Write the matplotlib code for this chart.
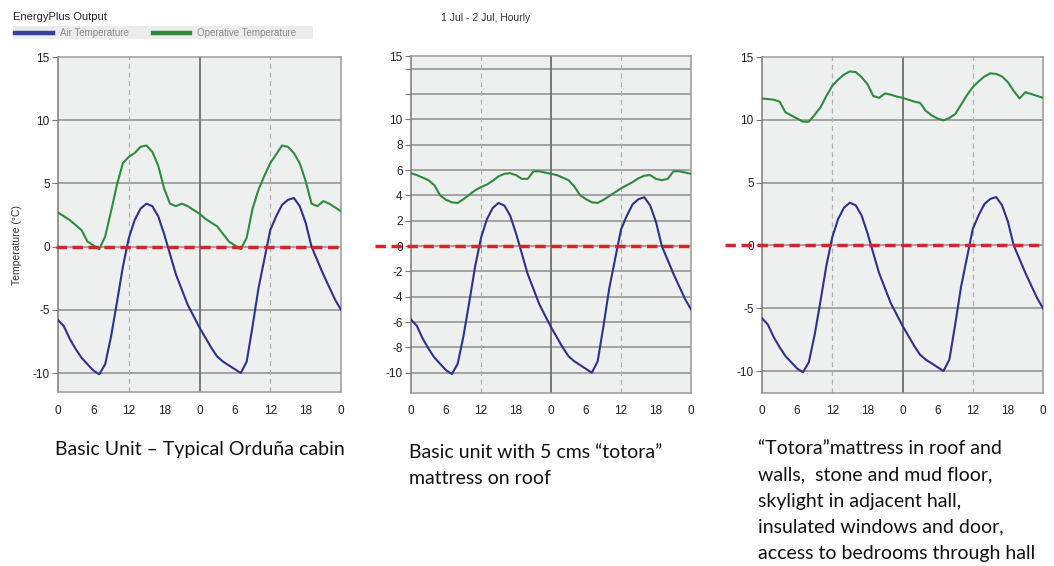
import matplotlib
matplotlib.use("Agg")
import matplotlib.pyplot as plt
import matplotlib.transforms as mtransforms
import numpy as np

plt.rcParams["font.family"] = ["Liberation Sans", "DejaVu Sans"]

# ---------------- data ----------------
hours = list(range(49))
xtick_pos = [0, 6, 12, 18, 24, 30, 36, 42, 48]
xtick_labels = ["0", "6", "12", "18", "0", "6", "12", "18", "0"]

air_temp = [-5.8, -6.3, -7.3, -8.1, -8.8, -9.3, -9.8, -10.1, -9.3, -7.1,
            -4.4, -1.6, 0.65, 2.1, 3.0, 3.4, 3.2, 2.4, 1.0, -0.6,
            -2.2, -3.4, -4.6, -5.5, -6.4, -7.2, -8.0, -8.7, -9.1, -9.4,
            -9.7, -10.0, -9.1, -6.3, -3.3, -1.0, 1.3, 2.4, 3.3, 3.7,
            3.85, 3.2, 1.9, 0.0, -1.1, -2.2, -3.2, -4.2, -5.0]

operative_basic = [2.7, 2.4, 2.1, 1.7, 1.3, 0.4, 0.1, -0.2, 0.8, 2.8,
                   4.9, 6.6, 7.1, 7.4, 7.9, 8.0, 7.5, 6.4, 4.6, 3.4,
                   3.2, 3.4, 3.2, 2.9, 2.6, 2.2, 1.9, 1.6, 1.0, 0.4,
                   0.1, -0.2, 0.7, 3.0, 4.5, 5.6, 6.6, 7.3, 8.0, 7.9,
                   7.4, 6.6, 5.2, 3.4, 3.2, 3.6, 3.4, 3.1, 2.8]

operative_roof = [5.75, 5.6, 5.4, 5.2, 4.8, 4.0, 3.65, 3.45, 3.4, 3.7,
                  4.05, 4.4, 4.65, 4.85, 5.15, 5.5, 5.7, 5.75, 5.6, 5.3,
                  5.3, 5.9, 5.9, 5.8, 5.7, 5.6, 5.4, 5.2, 4.7, 4.0,
                  3.7, 3.45, 3.4, 3.65, 3.95, 4.25, 4.55, 4.8, 5.05, 5.35,
                  5.55, 5.6, 5.3, 5.2, 5.3, 5.9, 5.9, 5.8, 5.7]

operative_full = [11.7, 11.65, 11.6, 11.45, 10.6, 10.35, 10.1, 9.85, 9.85, 10.4,
                  11.0, 11.9, 12.7, 13.2, 13.6, 13.85, 13.8, 13.4, 12.85, 11.9,
                  11.75, 12.1, 12.0, 11.85, 11.75, 11.6, 11.45, 11.35, 10.7, 10.35,
                  10.1, 9.95, 10.15, 10.45, 11.2, 11.95, 12.6, 13.05, 13.45, 13.7,
                  13.65, 13.45, 13.0, 12.3, 11.7, 12.2, 12.05, 11.9, 11.75]

yticks_main = [-10, -5, 0, 5, 10, 15]
yticks_roof = [-10, -8, -6, -4, -2, 0, 2, 4, 6, 8, 10, 12, 14, 15]
ylabels_roof = ["-10", "-8", "-6", "-4", "-2", "0", "2", "4", "6", "8", "10", "", "", "15"]

captions = [
    ["Basic Unit \u2013 Typical Ordu\u00f1a cabin"],
    ["Basic unit with 5 cms \u201ctotora\u201d", "mattress on roof"],
    ["\u201cTotora\u201dmattress in roof and", "walls,  stone and mud floor,",
     "skylight in adjacent hall,", "insulated windows and door,",
     "access to bedrooms through hall"],
]

title_text = "EnergyPlus Output"
period_text = "1 Jul - 2 Jul, Hourly"
legend_labels = ["Air Temperature", "Operative Temperature"]
ylabel_text = "Temperature (\u00b0C)"

# ---------------- styling ----------------
W, H = 1054, 566
fig = plt.figure(figsize=(W / 100, H / 100), dpi=100)
fig.patch.set_facecolor("white")

BLUE = "#2c3190"
GREEN = "#2e8b3c"
RED = "#cc2a2a"
BG = "#eef0ef"
GRID = "#8e8e8e"

def fx(px):
    return px / W

def fy(py):
    return 1 - py / H

panels = [
    dict(left=58, right=341, top=57, bottom=392, ylim=(-11.5, 15), op=operative_basic,
         yt=yticks_main, yl=[str(v) for v in yticks_main], red_ext=2),
    dict(left=411, right=691, top=56, bottom=393, ylim=(-11.6, 15), op=operative_roof,
         yt=yticks_roof, yl=ylabels_roof, red_ext=36),
    dict(left=762, right=1043, top=57, bottom=393, ylim=(-11.75, 15), op=operative_full,
         yt=yticks_main, yl=[str(v) for v in yticks_main], red_ext=37),
]

for i, p in enumerate(panels):
    ax = fig.add_axes([fx(p["left"]), fy(p["bottom"]),
                       (p["right"] - p["left"]) / W, (p["bottom"] - p["top"]) / H])
    ax.set_facecolor(BG)
    ax.set_xlim(0, 48)
    ax.set_ylim(*p["ylim"])
    # grid
    for yv in p["yt"]:
        if yv < 15:
            ax.axhline(yv, color=GRID, lw=1.1, zorder=1)
    ax.axvline(24, color="#6e6e6e", lw=1.3, zorder=1)
    for xv in (12, 36):
        ax.axvline(xv, color="#b0b0b0", lw=0.9, ls=(0, (4, 3)), zorder=1)
    # series
    ax.plot(hours, air_temp, color=BLUE, lw=1.5, zorder=3)
    ax.plot(hours, p["op"], color=GREEN, lw=1.5, zorder=3)
    # freezing line extends into the tick-label area
    ext = p["red_ext"] / (p["right"] - p["left"])
    trans = mtransforms.blended_transform_factory(ax.transAxes, ax.transData)
    ax.plot([-ext, 1], [0, 0], color=RED, lw=2.5, ls=(0, (3, 1.6)),
            transform=trans, clip_on=False, zorder=4)
    # axes styling
    for s in ax.spines.values():
        s.set_color("#9a9a9a")
        s.set_linewidth(1.1)
    ax.spines["left"].set_color("#7a7a7a")
    ax.set_xticks(xtick_pos)
    ax.set_xticklabels(xtick_labels)
    ax.set_yticks(p["yt"])
    ax.set_yticklabels(p["yl"])
    ax.tick_params(axis="x", length=0, pad=9, labelsize=8.5, labelcolor="#222222")
    ax.tick_params(axis="y", length=4, width=0.8, color="#7a7a7a", pad=2,
                   labelsize=8.5, labelcolor="#222222")

    # captions
    cap_x = [55, 409, 758][i]
    cap_y = [[450], [452, 478], [449, 475, 501, 527, 553]][i]
    for line, yy in zip(captions[i], cap_y):
        fig.text(fx(cap_x), fy(yy), line, fontsize=14, family="Lato",
                 color="#111111", ha="left", va="center")

fig.text(fx(17), fy(245), ylabel_text, fontsize=7.5, color="#333333",
         rotation=90, ha="center", va="center")

# header and legend
fig.text(fx(13), fy(17), title_text, fontsize=8, color="#222222", ha="left", va="center")
fig.text(fx(441), fy(18), period_text, fontsize=7.5, color="#333333", ha="left", va="center")
fig.patches.append(plt.Rectangle((fx(13), fy(39)), (313 - 13) / W, 13 / H,
                                 transform=fig.transFigure, facecolor="#ececec",
                                 edgecolor="none", zorder=0))
fig.add_artist(plt.Line2D([fx(15), fx(53)], [fy(33), fy(33)], color="#3a3fa0", lw=3.2,
                          transform=fig.transFigure))
fig.text(fx(60), fy(33), legend_labels[0], fontsize=7, color="#8a8a8a", ha="left", va="center")
fig.add_artist(plt.Line2D([fx(153), fx(190)], [fy(33), fy(33)], color="#2e8b3c", lw=3.2,
                          transform=fig.transFigure))
fig.text(fx(197), fy(33), legend_labels[1], fontsize=7, color="#8a8a8a", ha="left", va="center")

fig.savefig("out.png", dpi=100)
